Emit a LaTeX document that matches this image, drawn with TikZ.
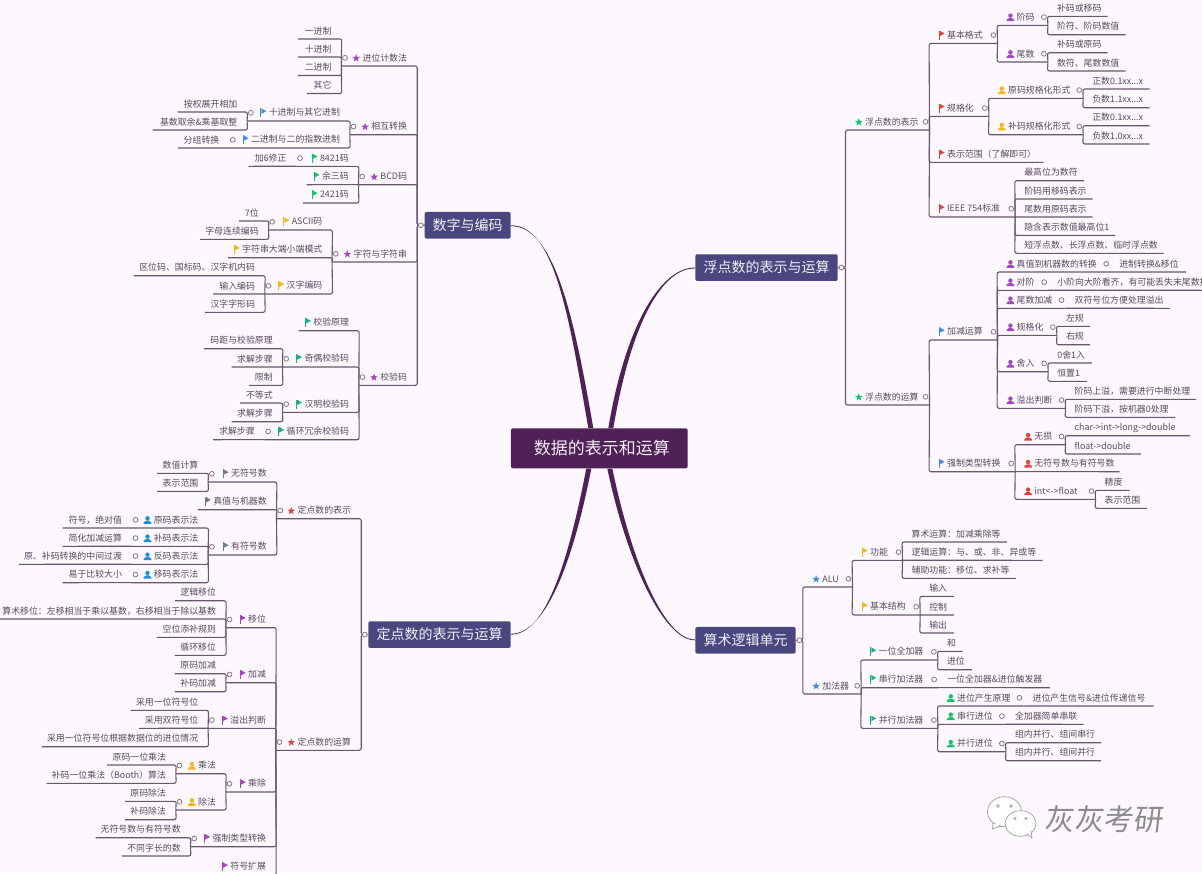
\documentclass[tikz,border=0pt]{standalone}
\usepackage{fontspec}
\setmainfont{Noto Sans CJK SC}
\newfontfamily\wmfont[FakeSlant=0.12]{Noto Sans CJK SC}

\definecolor{bgc}{HTML}{FCF8FE}
\definecolor{txtc}{HTML}{5A4A60}
\definecolor{linec}{HTML}{6B5670}
\definecolor{rootc}{HTML}{4F2157}
\definecolor{topicc}{HTML}{4A4680}
\definecolor{pur}{HTML}{A744C4}
\definecolor{grn}{HTML}{14C46A}
\definecolor{red}{HTML}{E2443C}
\definecolor{blu}{HTML}{3F8FE4}
\definecolor{yel}{HTML}{F6B61C}
\definecolor{tea}{HTML}{1FAE93}
\definecolor{gry}{HTML}{6C7A89}
\definecolor{sky}{HTML}{1690E0}

% markers in front of the texts
\newcommand{\ist}[1]{\tikz[baseline=-3pt,x=1pt,y=1pt]{\fill[#1] (0,4) -- (1,1.3) -- (3.8,1.2) -- (1.6,-0.5) -- (2.4,-3.2) -- (0,-1.6) -- (-2.4,-3.2) -- (-1.6,-0.5) -- (-3.8,1.2) -- (-1,1.3) -- cycle;}\hspace{2.5pt}}
\newcommand{\ifl}[1]{\tikz[baseline=-3pt,x=1pt,y=1pt]{\fill[#1] (0,-4.5) rectangle (1,4.5); \fill[#1] (1,4.5) -- (6,1.6) -- (1,-1) -- cycle;}\hspace{2.5pt}}
\newcommand{\ipe}[1]{\tikz[baseline=-3pt,x=1pt,y=1pt]{\fill[#1] (0,1.9) circle (2.2); \fill[#1] (-3.8,-3.6) -- (-3.8,-2.2) -- (-1.2,-0.4) -- (1.2,-0.4) -- (3.8,-2.2) -- (3.8,-3.6) -- cycle;}\hspace{2.5pt}}

\tikzset{
  item/.style={inner sep=0pt, minimum height=16pt, anchor=south, text=txtc, font=\fontsize{8.9}{11}\selectfont},
  link/.style={draw=linec, line width=1.1pt, rounded corners=2pt},
  knob/.style={circle, draw=linec!80, fill=bgc, line width=.8pt, inner sep=0pt, minimum size=4.8pt},
  topic/.style={fill=topicc, rounded corners=2pt, text=white!92!topicc, inner sep=0pt, font=\fontsize{14}{16}\selectfont},
  trunk/.style={fill=rootc},
}

% nodes on the left and on the right of the middle
\newcommand{\nl}[5]{\pgfmathsetlengthmacro\boxw{#3-#2}
  \node[item] (#1) at ({(#2+#3)/2},#4) {\makebox[\boxw][r]{\vphantom{字}#5\hspace*{10pt}}};}
\newcommand{\nr}[5]{\pgfmathsetlengthmacro\boxw{#3-#2}
  \node[item] (#1) at ({(#2+#3)/2},#4) {\makebox[\boxw][l]{\vphantom{字}\hspace*{9.3pt}#5}};}
\newcommand{\linkl}[2]{\foreach \c in {#2} \draw[link] (\c.south west) -- (\c.south east) -- (#1.south west);}
\newcommand{\linkr}[2]{\foreach \c in {#2} \draw[link] (\c.south east) -- (\c.south west) -- (#1.south east);}
% child on the line of its parent
\newcommand{\lineL}[2]{\draw[link] (#2.south west) -- ([yshift=.04pt]#1.south west);}
\newcommand{\lineR}[2]{\draw[link] (#2.south east) -- ([yshift=.04pt]#1.south east);}
\newcommand{\knobl}[1]{\foreach \n in {#1} \node[knob] (\n-k) at ([xshift=3.7pt]\n.west) {};}
\newcommand{\knobr}[1]{\foreach \n in {#1} \node[knob] (\n-k) at ([xshift=-4pt]\n.east) {};}

\begin{document}
\begin{tikzpicture}[x=1pt,y=-1pt]
  \useasboundingbox (0,0) rectangle (1202,873);
  \fill[bgc] (0,0) rectangle (1202,873);
  \clip (0,0) rectangle (1202,873);

  \node[fill=rootc, rounded corners=2pt, text=white!92!rootc, minimum width=176.7pt, minimum height=40pt, inner sep=0pt, font=\fontsize{17}{20}\selectfont] (root) at (599.3,448.3) {\hspace*{5pt}数据的表示和运算};
  \node[topic, minimum width=86pt, minimum height=26.7pt] (ta) at (467.7,225.3) {数字与编码};
  \node[topic, minimum width=142.4pt, minimum height=26.7pt] (tb) at (439.5,634.6) {定点数的表示与运算};
  \node[topic, minimum width=142.4pt, minimum height=26.7pt] (tc) at (766.5,267.6) {浮点数的表示与运算};
  \node[topic, minimum width=100.4pt, minimum height=26.7pt] (td) at (745.5,640.3) {算术逻辑单元};

  % the four thick curves
  \fill[trunk] ([xshift=-11pt]root.north) .. controls (569.5,320) and (555,224.8) .. (ta.east) -- ([yshift=-.8pt]ta.east) .. controls (555,225.8) and (574.5,320) .. ([xshift=-6pt]root.north) -- cycle;
  \fill[trunk] ([xshift=9pt]root.north) .. controls (627.5,315) and (665,266.8) .. (tc.west) -- ([yshift=-.8pt]tc.west) .. controls (665,267.8) and (632.5,315) .. ([xshift=14pt]root.north) -- cycle;
  \fill[trunk] ([xshift=-13pt]root.south) .. controls (567.5,565) and (545,634.8) .. (tb.east) -- ([yshift=.8pt]tb.east) .. controls (545,633.8) and (572.5,565) .. ([xshift=-8pt]root.south) -- cycle;
  \fill[trunk] ([xshift=8pt]root.south) .. controls (627.5,565) and (665,640.8) .. (td.west) -- ([yshift=.8pt]td.west) .. controls (665,639.8) and (632.5,565) .. ([xshift=13pt]root.south) -- cycle;

  % 数字与编码
  \nl{a1}{341.5}{417}{66}{\ist{pur}进位计数法}
  \nl{a11}{298}{341.5}{39}{一进制}
  \nl{a12}{298}{341.5}{57}{十进制}
  \nl{a13}{298}{341.5}{75.5}{二进制}
  \nl{a14}{307}{341.5}{93.5}{其它}
  \nl{a2}{350}{417}{134.7}{\ist{pur}相互转换}
  \nl{a21}{247.3}{350}{121}{\ifl{blu}十进制与其它进制}
  \nl{a211}{177.7}{247.3}{112}{按权展开相加}
  \nl{a212}{152.7}{247.3}{130}{基数取余\&乘基取整}
  \nl{a22}{229.3}{350}{148}{\ifl{blu}二进制与二的指数进制}
  \nl{a221}{178}{229.3}{148}{分组转换}
  \nl{a3}{358.7}{417}{184.7}{\ist{pur}BCD码}
  \nl{a31}{296.5}{358.7}{166.3}{\ifl{grn}8421码}
  \nl{a311}{248.7}{296.5}{166.3}{加6修正}
  \nl{a32}{306.7}{358.7}{184.7}{\ifl{grn}余三码}
  \nl{a33}{303.3}{358.7}{203}{\ifl{grn}2421码}
  \nl{a4}{332.3}{417}{262}{\ist{pur}字符与字符串}
  \nl{a41}{268.7}{332.3}{230}{\ifl{yel}ASCII码}
  \nl{a411}{239.3}{268.7}{221}{7位}
  \nl{a412}{200}{268.7}{239.3}{字母连续编码}
  \nl{a42}{228.3}{332.3}{257.7}{\ifl{yel}字符串大端小端模式}
  \nl{a43}{265}{332.3}{294}{\ifl{yel}汉字编码}
  \nl{a431}{134}{265}{275.7}{区位码、国标码、汉字机内码}
  \nl{a432}{213.3}{265}{294}{输入编码}
  \nl{a433}{205}{265}{312.3}{汉字字形码}
  \nl{a5}{359}{417}{385.3}{\ist{pur}校验码}
  \nl{a51}{298.7}{359}{330.7}{\ifl{tea}校验原理}
  \nl{a52}{282.7}{359}{367}{\ifl{tea}奇偶校验码}
  \nl{a521}{204}{282.7}{348.7}{码距与校验原理}
  \nl{a522}{231.7}{282.7}{367}{求解步骤}
  \nl{a523}{249}{282.7}{385.3}{限制}
  \nl{a53}{282.7}{359}{412.3}{\ifl{tea}汉明校验码}
  \nl{a531}{240}{282.7}{403}{不等式}
  \nl{a532}{231.7}{282.7}{421.7}{求解步骤}
  \nl{a54}{264.7}{359}{439.7}{\ifl{tea}循环冗余校验码}
  \nl{a541}{213.3}{264.7}{439.7}{求解步骤}

  % 定点数的表示与运算
  \nl{b1}{276.7}{361}{518.7}{\ist{red}定点数的表示}
  \nl{b11}{208.3}{276.7}{482}{\ifl{gry}无符号数}
  \nl{b111}{157.3}{208.3}{473.3}{数值计算}
  \nl{b112}{157.3}{208.3}{491.3}{表示范围}
  \nl{b12}{198.3}{276.7}{509.7}{\ifl{gry}真值与机器数}
  \nl{b13}{208.3}{276.7}{555}{\ifl{gry}有符号数}
  \nl{b131}{132}{208.3}{528}{\ipe{sky}原码表示法}
  \nl{b1311}{62.7}{132}{528}{符号，绝对值}
  \nl{b132}{132}{208.3}{546.3}{\ipe{sky}补码表示法}
  \nl{b1321}{62.7}{132}{546.3}{简化加减运算}
  \nl{b133}{132}{208.3}{564.3}{\ipe{sky}反码表示法}
  \nl{b1331}{19}{132}{564.3}{原、补码转换的中间过渡}
  \nl{b134}{132}{208.3}{582.7}{\ipe{sky}移码表示法}
  \nl{b1341}{62.7}{132}{582.7}{易于比较大小}
  \nl{b2}{276}{361}{750.3}{\ist{red}定点数的运算}
  \nl{b21}{226}{276}{627.7}{\ifl{pur}移位}
  \nl{b211}{175}{226}{600.7}{逻辑移位}
  \nl{b212}{0}{226}{619}{算术移位：左移相当于乘以基数，右移相当于除以基数}
  \nl{b213}{157}{226}{637.3}{空位添补规则}
  \nl{b214}{175}{226}{655.3}{循环移位}
  \nl{b22}{226}{276}{682.7}{\ifl{pur}加减}
  \nl{b221}{175}{226}{673.7}{原码加减}
  \nl{b222}{175}{226}{691.7}{补码加减}
  \nl{b23}{208.3}{276}{728.3}{\ifl{pur}溢出判断}
  \nl{b231}{130.7}{208.3}{710.3}{采用一位符号位}
  \nl{b232}{139.3}{208.3}{728.3}{采用双符号位}
  \nl{b233}{42.3}{208.3}{746.7}{采用一位符号位根据数据位的进位情况}
  \nl{b24}{226}{276}{792}{\ifl{pur}乘除}
  \nl{b241}{176}{226}{773.7}{\ipe{yel}乘法}
  \nl{b2411}{107.3}{176}{765}{原码一位乘法}
  \nl{b2412}{46.7}{176}{783.3}{补码一位乘法（Booth）算法}
  \nl{b242}{176}{226}{810}{\ipe{yel}除法}
  \nl{b2421}{125.3}{176}{801.3}{原码除法}
  \nl{b2422}{125.3}{176}{819.7}{补码除法}
  \nl{b25}{190.7}{276}{846.7}{\ifl{pur}强制类型转换}
  \nl{b251}{95.7}{190.7}{837.7}{无符号数与有符号数}
  \nl{b252}{122}{190.7}{856}{不同字长的数}
  \nl{b26}{220}{276}{875}{\ifl{pur}符号扩展}

  % 浮点数的表示与运算
  \nr{c1}{845.7}{929.3}{130}{\ist{grn}浮点数的表示}
  \nr{c11}{929.3}{997.3}{43.3}{\ifl{red}基本格式}
  \nr{c111}{997.3}{1047.7}{25.3}{\ipe{pur}阶码}
  \nr{c1111}{1047.7}{1107.3}{16.3}{补码或移码}
  \nr{c1112}{1047.7}{1125.3}{34.7}{阶符、阶码数值}
  \nr{c112}{997.3}{1047.7}{62}{\ipe{pur}尾数}
  \nr{c1121}{1047.7}{1107.3}{52.7}{补码或原码}
  \nr{c1122}{1047.7}{1125.3}{71}{数符、尾数数值}
  \nr{c12}{929.3}{988.7}{116.3}{\ifl{red}规格化}
  \nr{c121}{988.7}{1083}{98.3}{\ipe{yel}原码规格化形式}
  \nr{c1211}{1083}{1149.3}{89}{正数0.1xx...x}
  \nr{c1212}{1083}{1149.3}{107.7}{负数1.1xx...x}
  \nr{c122}{988.7}{1083}{134.7}{\ipe{yel}补码规格化形式}
  \nr{c1221}{1083}{1149.3}{125.7}{正数0.1xx...x}
  \nr{c1222}{1083}{1149.3}{144}{负数1.0xx...x}
  \nr{c13}{929.3}{1043.3}{162.3}{\ifl{red}表示范围（了解即可）}
  \nr{c14}{929.3}{1015}{217}{\ifl{red}IEEE 754标准}
  \nr{c141}{1015}{1083.7}{180.7}{最高位为数符}
  \nr{c142}{1015}{1092.3}{199}{阶码用移码表示}
  \nr{c143}{1015}{1092.3}{217}{尾数用原码表示}
  \nr{c144}{1015}{1115}{235.3}{隐含表示数值最高位1}
  \nr{c145}{1015}{1163.3}{253.3}{短浮点数、长浮点数、临时浮点数}
  \nr{c2}{845.7}{929.3}{405}{\ist{grn}浮点数的运算}
  \nr{c21}{929.3}{997.3}{340}{\ifl{blu}加减运算}
  \nr{c211}{997.3}{1110}{272}{\ipe{pur}真值到机器数的转换}
  \nr{c2111}{1110}{1186}{272}{进制转换\&移位}
  \nr{c212}{997.3}{1048}{290.3}{\ipe{pur}对阶}
  \nr{c2121}{1048}{1225}{290.3}{小阶向大阶看齐，有可能丢失末尾数据}
  \nr{c213}{997.3}{1065.3}{308.3}{\ipe{pur}尾数加减}
  \nr{c2131}{1065.3}{1169.3}{308.3}{双符号位方便处理溢出}
  \nr{c214}{997.3}{1056.7}{335.3}{\ipe{pur}规格化}
  \nr{c2141}{1056.7}{1090}{326.3}{左规}
  \nr{c2142}{1056.7}{1090}{344.7}{右规}
  \nr{c215}{997.3}{1048}{371.7}{\ipe{pur}舍入}
  \nr{c2151}{1048}{1091.7}{363}{0舍1入}
  \nr{c2152}{1048}{1086.7}{381.3}{恒置1}
  \nr{c216}{997.3}{1065.3}{408.3}{\ipe{pur}溢出判断}
  \nr{c2161}{1065.3}{1196}{399.3}{阶码上溢，需要进行中断处理}
  \nr{c2162}{1065.3}{1174.7}{417.3}{阶码下溢，按机器0处理}
  \nr{c22}{929.3}{1015}{471.7}{\ifl{blu}强制类型转换}
  \nr{c221}{1015}{1065.3}{444.7}{\ipe{red}无损}
  \nr{c2211}{1065.3}{1190}{435.7}{char->int->long->double}
  \nr{c2212}{1065.3}{1140.7}{454}{float->double}
  \nr{c222}{1015}{1119.3}{471.7}{\ipe{red}无符号数与有符号数}
  \nr{c223}{1015}{1095.3}{499.3}{\ipe{red}int<->float}
  \nr{c2231}{1095.3}{1129.3}{490.3}{精度}
  \nr{c2232}{1095.3}{1146.7}{508.3}{表示范围}

  % 算术逻辑单元
  \nr{d1}{803}{852.3}{587}{\ist{blu}ALU}
  \nr{d11}{852.3}{902.3}{560.3}{\ifl{yel}功能}
  \nr{d111}{902.3}{1006.7}{542}{算术运算：加减乘除等}
  \nr{d112}{902.3}{1042.3}{560.3}{逻辑运算：与、或、非、异或等}
  \nr{d113}{902.3}{1015.7}{578.3}{辅助功能：移位、求补等}
  \nr{d12}{852.3}{920}{615}{\ifl{yel}基本结构}
  \nr{d121}{920}{954}{596.3}{输入}
  \nr{d122}{920}{954}{615}{控制}
  \nr{d123}{920}{954}{633}{输出}
  \nr{d2}{803}{861}{694}{\ist{blu}加法器}
  \nr{d21}{861}{937.7}{660}{\ifl{tea}一位全加器}
  \nr{d211}{937.7}{962.3}{651.3}{和}
  \nr{d212}{937.7}{971.7}{669.7}{进位}
  \nr{d22}{861}{938}{687.7}{\ifl{tea}串行加法器}
  \nr{d221}{938}{1050}{687.7}{一位全加器\&进位触发器}
  \nr{d23}{861}{937.7}{728.3}{\ifl{tea}并行加法器}
  \nr{d231}{937.7}{1023.3}{706}{\ipe{grn}进位产生原理}
  \nr{d2311}{1023.3}{1153.3}{706}{进位产生信号\&进位传递信号}
  \nr{d232}{937.7}{1005.7}{724.3}{\ipe{grn}串行进位}
  \nr{d2321}{1005.7}{1083.3}{724.3}{全加器简单串联}
  \nr{d233}{937.7}{1005.7}{751.7}{\ipe{grn}并行进位}
  \nr{d2331}{1005.7}{1101}{742.7}{组内并行、组间串行}
  \nr{d2332}{1005.7}{1101}{760.7}{组内并行、组间并行}

  % lines under the texts
  \foreach \c in {a1,a2,a3,a4,a5} \draw[link] (\c.south west) -- (\c.south east) |- (ta.west);
  \linkl{a1}{a11,a12,a13,a14}
  \linkl{a2}{a21,a22}
  \linkl{a21}{a211,a212}
  \lineL{a22}{a221}
  \linkl{a3}{a31,a33}
  \lineL{a3}{a32}
  \lineL{a31}{a311}
  \linkl{a4}{a41,a42,a43}
  \linkl{a41}{a411,a412}
  \linkl{a43}{a431,a433}
  \lineL{a43}{a432}
  \linkl{a5}{a51,a52,a53,a54}
  \linkl{a52}{a521,a523}
  \lineL{a52}{a522}
  \linkl{a53}{a531,a532}
  \lineL{a54}{a541}

  \foreach \c in {b1,b2} \draw[link] (\c.south west) -- (\c.south east) |- (tb.west);
  \linkl{b1}{b11,b12,b13}
  \linkl{b11}{b111,b112}
  \linkl{b13}{b131,b132,b133,b134}
  \lineL{b131}{b1311}
  \lineL{b132}{b1321}
  \lineL{b133}{b1331}
  \lineL{b134}{b1341}
  \linkl{b2}{b21,b22,b23,b24,b25,b26}
  \linkl{b21}{b211,b212,b213,b214}
  \linkl{b22}{b221,b222}
  \linkl{b23}{b231,b233}
  \lineL{b23}{b232}
  \linkl{b24}{b241,b242}
  \linkl{b241}{b2411,b2412}
  \linkl{b242}{b2421,b2422}
  \linkl{b25}{b251,b252}

  \foreach \c in {c1,c2} \draw[link] (\c.south east) -- (\c.south west) |- (tc.east);
  \linkr{c1}{c11,c12,c13,c14}
  \linkr{c11}{c111,c112}
  \linkr{c111}{c1111,c1112}
  \linkr{c112}{c1121,c1122}
  \linkr{c12}{c121,c122}
  \linkr{c121}{c1211,c1212}
  \linkr{c122}{c1221,c1222}
  \linkr{c14}{c141,c142,c144,c145}
  \lineR{c14}{c143}
  \linkr{c2}{c21,c22}
  \linkr{c21}{c211,c212,c213,c214,c215,c216}
  \lineR{c211}{c2111}
  \lineR{c212}{c2121}
  \lineR{c213}{c2131}
  \linkr{c214}{c2141,c2142}
  \linkr{c215}{c2151,c2152}
  \linkr{c216}{c2161,c2162}
  \linkr{c22}{c221,c223}
  \lineR{c22}{c222}
  \linkr{c221}{c2211,c2212}
  \linkr{c223}{c2231,c2232}

  \foreach \c in {d1,d2} \draw[link] (\c.south east) -- (\c.south west) |- (td.east);
  \linkr{d1}{d11,d12}
  \linkr{d11}{d111,d113}
  \lineR{d11}{d112}
  \linkr{d12}{d121,d123}
  \lineR{d12}{d122}
  \linkr{d2}{d21,d22,d23}
  \linkr{d21}{d211,d212}
  \lineR{d22}{d221}
  \linkr{d23}{d231,d232,d233}
  \lineR{d231}{d2311}
  \lineR{d232}{d2321}
  \linkr{d233}{d2331,d2332}

  % small circles
  \knobl{a1,a2,a21,a22,a3,a31,a4,a41,a43,a5,a52,a53,a54}
  \knobl{b1,b11,b13,b131,b132,b133,b134,b2,b21,b22,b23,b24,b241,b242,b25}
  \knobr{c1,c11,c111,c112,c12,c121,c122,c14,c2,c21,c211,c212,c213,c214,c215,c216,c22,c221,c223}
  \knobr{d1,d11,d12,d2,d21,d22,d23,d231,d232,d233}
  \node[knob] (ta-k) at ([xshift=-3.7pt]ta.west) {};
  \node[knob] (tb-k) at ([xshift=-3.3pt]tb.west) {};
  \node[knob] (tc-k) at ([xshift=3.5pt]tc.east) {};
  \node[knob] (td-k) at ([xshift=3.5pt]td.east) {};

  % the mark at the bottom
  \begin{scope}[draw=gray!75, fill=white, line width=.7pt]
    \filldraw (1004.5,811.7) ellipse [x radius=17, y radius=15];
    \filldraw (993,823) -- (992.5,829) -- (1001,826) -- cycle;
    \fill (994.5,820) -- (996,826) -- (1002,824) -- cycle;
    \filldraw (1020.5,823.5) ellipse [x radius=15.5, y radius=12.8];
    \filldraw (1027,834) -- (1032,838) -- (1031,831) -- cycle;
    \fill (1025,832.5) -- (1030.5,834.5) -- (1030.5,829.5) -- cycle;
    \filldraw (998,806) circle (1.3) (1011,806) circle (1.3) (1015,818.5) circle (1.1) (1026,818.5) circle (1.1);
  \end{scope}
  \node[text=gray!90, inner sep=0pt, font=\wmfont\fontsize{29.5}{32}\selectfont] (mark) at (1103.5,819) {灰灰考研};
\end{tikzpicture}
\end{document}
